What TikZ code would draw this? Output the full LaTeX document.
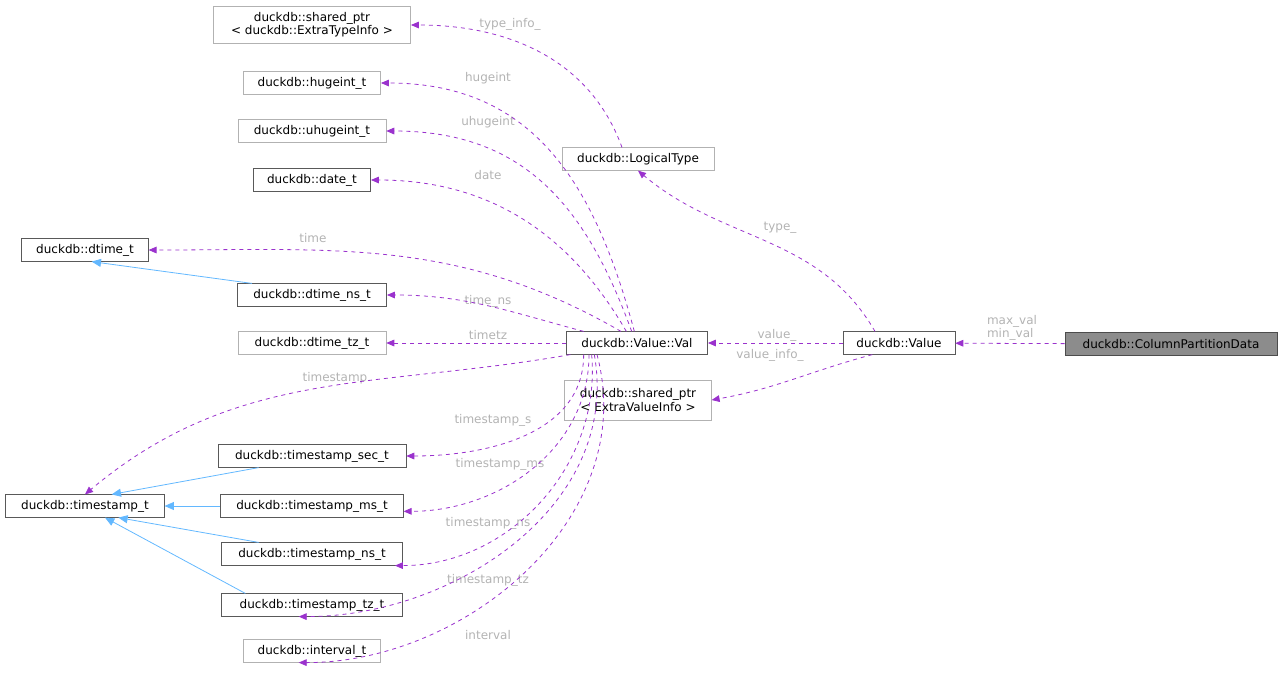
\documentclass[tikz,border=0pt]{standalone}
\usepackage{fontspec}
\setmainfont{DejaVu Sans}
\usetikzlibrary{arrows.meta,positioning}

\definecolor{member}{HTML}{9A32CD}
\definecolor{inherit}{HTML}{63B8FF}
\definecolor{lbl}{HTML}{B3B3B3}

\tikzset{
  cls/.style={draw=black!65,fill=white,font=\fontsize{9}{10}\selectfont,inner sep=0pt,minimum height=17pt,align=center},
  ext/.style={cls,draw=black!30},
  main/.style={cls,fill=black!45,draw=black!70},
  uses/.style={color=member,dashed,semithick,-{Triangle[length=6pt,width=5pt]}},
  isa/.style={color=inherit,semithick,{Triangle[length=7pt,width=6pt]}-},
  lab/.style={text=lbl,font=\fontsize{9}{10}\selectfont,align=left,inner sep=0pt}
}

\begin{document}
\begin{tikzpicture}[x=0.75pt,y=-0.75pt]
  \useasboundingbox (0,0) rectangle (1283,683);

  % Classes
  \node[main,minimum width=159pt] (cpd) at (1171,344) {duckdb::ColumnPartitionData};
  \node[cls,minimum width=84pt] (value) at (899,343) {duckdb::Value};
  \node[cls,minimum width=106pt] (val) at (637,343) {duckdb::Value::Val};
  \node[ext,minimum width=114pt] (ltype) at (638,159) {duckdb::LogicalType};
  \node[ext,minimum width=148pt,minimum height=28pt] (typeinfo) at (312,25) {duckdb::shared\_ptr\\< duckdb::ExtraTypeInfo >};
  \node[ext,minimum width=110pt,minimum height=30pt] (valinfo) at (638,400) {duckdb::shared\_ptr\\< ExtraValueInfo >};
  \node[ext,minimum width=103pt] (hugeint) at (312,83) {duckdb::hugeint\_t};
  \node[ext,minimum width=111pt] (uhugeint) at (312,131) {duckdb::uhugeint\_t};
  \node[cls,minimum width=88pt] (date) at (312,180) {duckdb::date\_t};
  \node[cls,minimum width=95pt] (dtime) at (85,250) {duckdb::dtime\_t};
  \node[cls,minimum width=112pt] (dtimens) at (312,295) {duckdb::dtime\_ns\_t};
  \node[ext,minimum width=111pt] (dtimetz) at (312,343) {duckdb::dtime\_tz\_t};
  \node[cls,minimum width=119pt] (ts) at (85,506) {duckdb::timestamp\_t};
  \node[cls,minimum width=141pt] (tssec) at (312,456) {duckdb::timestamp\_sec\_t};
  \node[cls,minimum width=137pt] (tsms) at (312,506) {duckdb::timestamp\_ms\_t};
  \node[cls,minimum width=136pt] (tsns) at (312,554) {duckdb::timestamp\_ns\_t};
  \node[cls,minimum width=136pt] (tstz) at (312,605) {duckdb::timestamp\_tz\_t};
  \node[ext,minimum width=103pt] (interval) at (312,651) {duckdb::interval\_t};

  % Inheritance
  \draw[isa] ([xshift=5pt]dtime.south) -- ([xshift=-45pt]dtimens.north);
  \draw[isa] ([xshift=20pt]ts.north) -- ([xshift=-40pt]tssec.south);
  \draw[isa] (ts.east) -- (tsms.west);
  \draw[isa] ([xshift=25pt]ts.south) -- ([xshift=-40pt]tsns.north);
  \draw[isa] ([xshift=15pt]ts.south) -- ([xshift=-50pt]tstz.north);

  % Labels
  \node[lab] (lcpd) at (1012,328) {max\_val\\min\_val};
  \node[lab] (lval) at (777,335) {value\_};
  \node[lab] (lvinfo) at (770,355) {value\_info\_};
  \node[lab] (ltyp) at (780,228) {type\_};
  \node[lab] (ltinfo) at (510,24) {type\_info\_};
  \node[lab] (lhuge) at (488,78) {hugeint};
  \node[lab] (luhuge) at (488,122) {uhugeint};
  \node[lab] (ldate) at (488,175) {date};
  \node[lab] (ltime) at (313,238) {time};
  \node[lab] (ltimens) at (488,301) {time\_ns};
  \node[lab] (ltimetz) at (488,335) {timetz};
  \node[lab] (lts) at (335,378) {timestamp};
  \node[lab] (ltss) at (493,420) {timestamp\_s};
  \node[lab] (ltsms) at (500,464) {timestamp\_ms};
  \node[lab] (ltsns) at (488,523) {timestamp\_ns};
  \node[lab] (ltstz) at (488,580) {timestamp\_tz};
  \node[lab] (lint) at (488,635) {interval};

  % Members
  \draw[uses] (cpd) -- (value);
  \draw[uses] (value) -- (val);
  \draw[uses] ([xshift=-20pt]value.south) to[out=-165,in=10] (valinfo.east);
  \draw[uses] ([xshift=-18pt]value.north) to[out=120,in=-40] (ltype.south);
  \draw[uses] ([xshift=-12pt]ltype.north) to[out=110,in=0] (typeinfo.east);

  \draw[uses] ([xshift=-2pt]val.north) to[out=105,in=0,looseness=1.1] (hugeint.east);
  \draw[uses] ([xshift=-4pt]val.north) to[out=110,in=0,looseness=1.1] (uhugeint.east);
  \draw[uses] ([xshift=-8pt]val.north) to[out=120,in=0] (date.east);
  \draw[uses] ([xshift=-12pt]val.north) to[out=150,in=0] (dtime.east);
  \draw[uses] ([xshift=-40pt]val.north) to[out=165,in=0] (dtimens.east);
  \draw[uses] (val) -- (dtimetz);
  \draw[uses] ([xshift=-50pt]val.south) to[out=190,in=40] (ts.north);
  \draw[uses] ([xshift=-40pt]val.south) to[out=-90,in=0] (tssec.east);
  \draw[uses] ([xshift=-36pt]val.south) to[out=-90,in=0] ([yshift=-4pt]tsms.east);
  \draw[uses] ([xshift=-34pt]val.south) to[out=-85,in=0] ([xshift=-6pt]tsns.south east);
  \draw[uses] ([xshift=-32pt]val.south) to[out=-80,in=0] ([xshift=-10pt]tstz.south);
  \draw[uses] ([xshift=-30pt]val.south) to[out=-75,in=0] ([xshift=-10pt]interval.south);
\end{tikzpicture}
\end{document}
